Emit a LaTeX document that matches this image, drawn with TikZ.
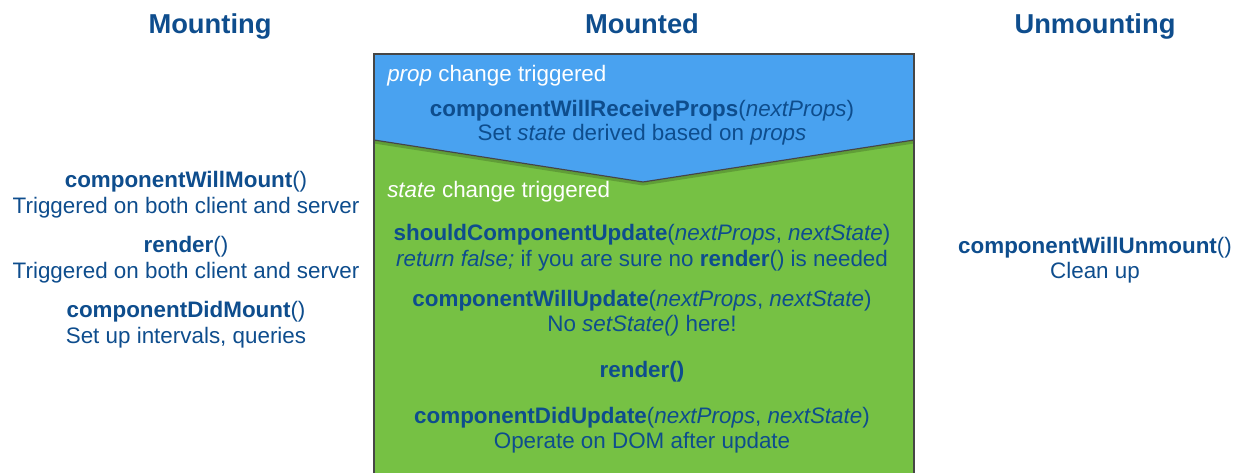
\documentclass[tikz,border=0pt]{standalone}
\usepackage{fontspec}
\setmainfont{Liberation Sans}
\definecolor{ink}{RGB}{14,77,141}
\definecolor{propblue}{RGB}{73,162,240}
\definecolor{stategreen}{RGB}{118,193,68}
\definecolor{edge}{RGB}{70,70,70}
\begin{document}
\begin{tikzpicture}[x=0.75pt,y=-0.75pt,
  txt/.style={font=\fontsize{16.8}{19}\selectfont, text=ink, inner sep=0pt, anchor=base},
  note/.style={font=\fontsize{16.8}{19}\selectfont, text=white, inner sep=0pt, anchor=base west},
  head/.style={font=\fontsize{20.5}{24}\selectfont\bfseries, text=ink, inner sep=0pt, anchor=base}]
\useasboundingbox (0,0) rectangle (1242,472);
\clip (0,0) rectangle (1242,472);

% phase headings
\node[head] (hmount) at (210,33) {Mounting};
\node[head] (hmounted) at (642,33) {Mounted};
\node[head] (hunmount) at (1095,33) {Unmounting};

% mounted phase box: state part (green) under the prop part (blue)
\fill[stategreen] (374,54) rectangle (914,490);
\fill[propblue] (374,54) -- (914,54) -- (914,140) -- (643,182) -- (374,140) -- cycle;
\draw[black, line width=2.2pt, opacity=0.18] (374,142) -- (643,184) -- (914,142);
\draw[edge, line width=0.9pt] (374,140) -- (643,182) -- (914,140);
\draw[edge, line width=0.9pt] (374,490) -- (374,54) -- (914,54) -- (914,490);

% prop change
\node[note] (propnote) at (387,81) {\textit{prop} change triggered};
\node[txt] (cwrp) at (642,116) {\textbf{componentWillReceiveProps}(\textit{nextProps})};
\node[txt] (cwrpd) at (642,140) {Set \textit{state} derived based on \textit{props}};

% state change
\node[note] (statenote) at (387,197) {\textit{state} change triggered};
\node[txt] (scu) at (642,240) {\textbf{shouldComponentUpdate}(\textit{nextProps}, \textit{nextState})};
\node[txt] (scud) at (642,266) {\textit{return false;} if you are sure no \textbf{render}() is needed};
\node[txt] (cwu) at (642,306) {\textbf{componentWillUpdate}(\textit{nextProps}, \textit{nextState})};
\node[txt] (cwud) at (642,331) {No \textit{setState()} here!};
\node[txt] (rnd) at (642,377) {\textbf{render()}};
\node[txt] (cdu) at (642,423) {\textbf{componentDidUpdate}(\textit{nextProps}, \textit{nextState})};
\node[txt] (cdud) at (642,448) {Operate on DOM after update};

% mounting
\node[txt] (cwm) at (186,187) {\textbf{componentWillMount}()};
\node[txt] (cwmd) at (186,213) {Triggered on both client and server};
\node[txt] (mrnd) at (186,252) {\textbf{render}()};
\node[txt] (mrndd) at (186,278) {Triggered on both client and server};
\node[txt] (cdm) at (186,317) {\textbf{componentDidMount}()};
\node[txt] (cdmd) at (186,343) {Set up intervals, queries};

% unmounting
\node[txt] (cwun) at (1095,253) {\textbf{componentWillUnmount}()};
\node[txt] (cwund) at (1095,278) {Clean up};
\end{tikzpicture}
\end{document}
